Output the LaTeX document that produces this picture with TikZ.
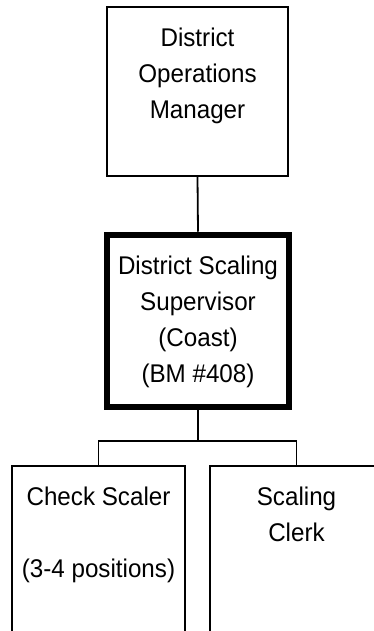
\documentclass[tikz,border=0pt]{standalone}
\usepackage{fontspec}
\setmainfont{Liberation Sans}[FakeStretch=0.945]
\usetikzlibrary{positioning}

% text block, top aligned inside a box of fixed size
\newcommand{\postext}[3]{\parbox[t][#1][t]{#2}{\centering\vspace*{14.8pt}\strut#3}}

\tikzset{
    posbox/.style={draw, line width=1.8pt, inner sep=0pt, font=\fontsize{25.6}{36}\selectfont},
    headbox/.style={posbox, line width=6.5pt},
    link/.style={line width=1.8pt}
}

\begin{document}
\begin{tikzpicture}[x=1pt, y=1pt]
    \useasboundingbox (0, 0) rectangle (374, 631);
    \clip (0, 0) rectangle (374, 631);

    % Manager
    \node[posbox] (dom) at (197.5, 539.5) {\postext{169pt}{181pt}{District\\Operations\\Manager}};

    % Supervisor
    \node[headbox] (dss) at (198, 310) {\postext{172pt}{182pt}{District Scaling\\Supervisor\\(Coast)\\(BM \#408)}};

    % Staff
    \node[posbox] (cs) at (98.5, 65) {\postext{200pt}{173pt}{Check Scaler\\~\\(3-4 positions)}};
    \node[posbox] (sc) at (296.5, 65) {\postext{200pt}{173pt}{Scaling\\Clerk}};

    \draw[link] (dom.south) -- (dss.north);
    \coordinate[below=31pt of dss.south] (split);
    \draw[link] (dss.south) -- (split);
    \draw[link] (split) -| (cs.north);
    \draw[link] (split) -| (sc.north);
\end{tikzpicture}
\end{document}
